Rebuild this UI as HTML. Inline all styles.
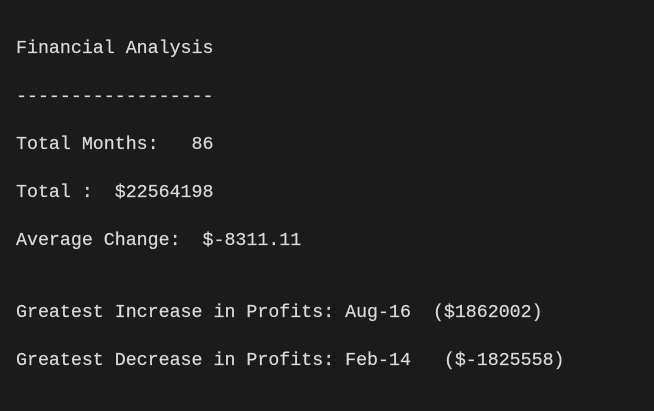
<!DOCTYPE html>
<html><head><meta charset="utf-8"><style>
html,body{margin:0;padding:0;}
body{width:654px;height:411px;background:#1b1b1b;position:relative;overflow:hidden;}
.l{position:absolute;left:16px;font-family:"Liberation Mono",monospace;font-size:18.3px;line-height:24px;color:#dadada;white-space:pre;-webkit-text-stroke:0.2px #dadada;}
</style></head><body>
<div class="l" style="top:37px">Financial Analysis</div>
<div class="l" style="top:85px">------------------</div>
<div class="l" style="top:133px">Total Months:   86</div>
<div class="l" style="top:181px">Total :  $22564198</div>
<div class="l" style="top:229px">Average Change:  $-8311.11</div>
<div class="l" style="top:301px">Greatest Increase in Profits: Aug-16  ($1862002)</div>
<div class="l" style="top:349px">Greatest Decrease in Profits: Feb-14   ($-1825558)</div>
</body></html>
